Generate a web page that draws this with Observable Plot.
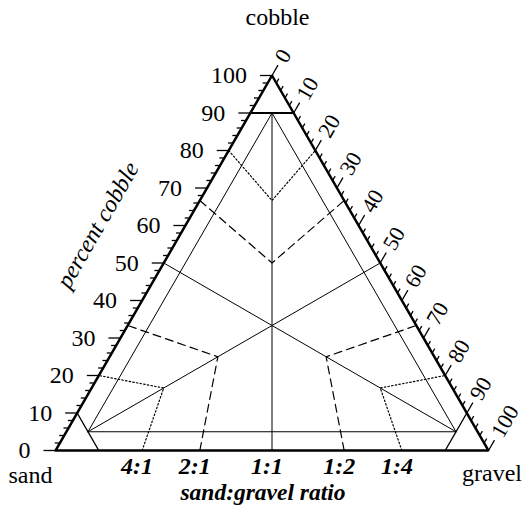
<!DOCTYPE html>
<html><head><meta charset="utf-8">
<script src="https://cdn.jsdelivr.net/npm/d3@7"></script>
<script src="https://cdn.jsdelivr.net/npm/@observablehq/plot@0.6"></script>
<style>body{margin:0;background:#fff}</style>
</head><body><div id="chart"></div>
<script>
// ---- data ----
const vertexNames = ["sand", "gravel", "cobble"];
const axisTicks = [0, 10, 20, 30, 40, 50, 60, 70, 80, 90, 100];   // labelled ticks
const minorTicks = [0,2,4,6,8,10,12,14,16,18,20,22,24,26,28,30,32,34,36,38,40,42,44,46,48,50,52,54,56,58,60,62,64,66,68,70,72,74,76,78,80,82,84,86,88,90,92,94,96,98,100];
const ratioLabels = ["4:1", "2:1", "1:1", "1:2", "1:4"];
const ratioSand = [4, 2, 1, 1, 1];
const ratioGravel = [1, 1, 1, 2, 4];
const dottedRatio = 4;   // 4:1 lines
const dashedRatio = 2;   // 2:1 lines
const innerPct = 90;     // inner triangle: 90 % of one component
const cornerPct = 90;    // small corner triangles
const cobbleCap = 90;    // heavy line at 90 % cobble

// ---- geometry helpers (ternary -> cartesian data units) ----
const H = Math.sqrt(3) / 2;
function P(s, g, c) { const t = s + g + c; s = 100 * s / t; g = 100 * g / t; c = 100 * c / t; return {x: g + c / 2, y: c * H}; }
function PV(arr) { return P(arr[0], arr[1], arr[2]); } // [sand, gravel, cobble]
function comp(A, a, B, b, C, c) { const v = [0, 0, 0]; v[A] = a; v[B] = b; v[C] = c; return v; }

const W = 524, HT = 506;
const mL = 55, mR = 36, mT = 75, mB = 56;
const pxPerUnit = (W - mL - mR) / 100;
const u = px => px / pxPerUnit;

// lines
let id = 0;
function poly(pts, arr) { id++; pts.forEach(p => arr.push({...PV(p), id})); }
const outer = [], heavy = [], corner = [], thin = [], dotted = [], dashed = [];
poly([[100,0,0],[0,100,0],[0,0,100],[100,0,0]], outer);
poly([[100-cobbleCap,0,cobbleCap],[0,100-cobbleCap,cobbleCap]], heavy);
poly([[cornerPct,0,100-cornerPct],[cornerPct,100-cornerPct,0]], corner);
poly([[0,cornerPct,100-cornerPct],[100-cornerPct,cornerPct,0]], corner);
const r = (100 - innerPct) / 2;
poly([[innerPct,r,r],[r,innerPct,r],[r,r,innerPct],[innerPct,r,r]], thin);
poly([[innerPct,r,r],[0,50,50]], thin);
poly([[r,innerPct,r],[50,0,50]], thin);
poly([[50,50,0],[r,r,innerPct]], thin);
// ratio lines for each vertex A (pair A:B on edge C=0, then A:C)
[[0,1,2],[1,0,2],[2,0,1]].forEach(([A,B,C]) => {
  [[dottedRatio, dotted], [dashedRatio, dashed]].forEach(([k, arr]) => {
    poly([comp(A,k,B,1,C,0), comp(A,k,B,1,C,1), comp(A,k,B,0,C,1)], arr);
  });
});

// ticks
const leftTicks = minorTicks.map(c => { const p = P(100 - c, 0, c); const len = u(c % 10 === 0 ? 12 : 5); return {x1: p.x, y1: p.y, x2: p.x - len, y2: p.y}; });
const rightTicks = minorTicks.map(g => { const p = P(0, g, 100 - g); const len = u(g % 10 === 0 ? 12 : 5); return {x1: p.x, y1: p.y, x2: p.x + len * 0.5, y2: p.y + len * H}; });
const leftLabels = axisTicks.map(c => ({...P(100 - c, 0, c), t: String(c)}));
const rightLabels = axisTicks.map(g => ({...P(0, g, 100 - g), t: String(g)}));
const ratioPts = ratioLabels.map((t, i) => ({...P(ratioSand[i], ratioGravel[i], 0), t}));

const font = "Liberation Serif";
const fs = 24;
const sandPt = P(100,0,0), gravelPt = P(0,100,0), cobblePt = P(0,0,100), midBase = P(50,50,0), leftMid = P(50,0,50);

const chart = Plot.plot({
  width: W, height: HT,
  marginLeft: mL, marginRight: mR, marginTop: mT, marginBottom: mB,
  x: {domain: [0, 100], axis: null},
  y: {domain: [0, 100 * H], axis: null},
  style: {background: "white"},
  marks: [
    Plot.line(thin, {x: "x", y: "y", z: "id", stroke: "black", strokeWidth: 1}),
    Plot.line(dotted, {x: "x", y: "y", z: "id", stroke: "black", strokeWidth: 1.2, strokeDasharray: "1.5,2.2"}),
    Plot.line(dashed, {x: "x", y: "y", z: "id", stroke: "black", strokeWidth: 1.2, strokeDasharray: "8,5"}),
    Plot.line(corner, {x: "x", y: "y", z: "id", stroke: "black", strokeWidth: 1.4}),
    Plot.line(heavy, {x: "x", y: "y", z: "id", stroke: "black", strokeWidth: 2}),
    Plot.line(outer, {x: "x", y: "y", z: "id", stroke: "black", strokeWidth: 2.5, strokeLinejoin: "miter"}),
    Plot.link(leftTicks, {x1: "x1", y1: "y1", x2: "x2", y2: "y2", stroke: "black", strokeWidth: 1.3}),
    Plot.link(rightTicks, {x1: "x1", y1: "y1", x2: "x2", y2: "y2", stroke: "black", strokeWidth: 1.3}),
    Plot.text(leftLabels, {x: "x", y: "y", text: "t", textAnchor: "end", dx: -25, fontFamily: font, fontSize: fs, fill: "black"}),
    Plot.text(rightLabels, {x: "x", y: "y", text: "t", textAnchor: "start", rotate: -60, dx: 8.5, dy: -14.7, fontFamily: font, fontSize: 22, fill: "black"}),
    Plot.text(ratioPts, {x: "x", y: "y", text: "t", dx: -5, dy: 16, fontFamily: font, fontSize: fs, fontWeight: "bold", fontStyle: "italic", fill: "black"}),
    Plot.text([vertexNames[0]], {x: sandPt.x, y: sandPt.y, text: d => d, textAnchor: "end", dx: -3, dy: 25, fontFamily: font, fontSize: fs, fill: "black"}),
    Plot.text([vertexNames[1]], {x: gravelPt.x, y: gravelPt.y, text: d => d, dx: 3.5, dy: 23, fontFamily: font, fontSize: fs, fill: "black"}),
    Plot.text([vertexNames[2]], {x: cobblePt.x, y: cobblePt.y, text: d => d, dx: 5.5, dy: -58, fontFamily: font, fontSize: fs, fill: "black"}),
    Plot.text(["sand:gravel ratio"], {x: midBase.x, y: midBase.y, text: d => d, dx: -9, dy: 42, fontFamily: font, fontSize: 23.5, fontWeight: "bold", fontStyle: "italic", fill: "black"}),
    Plot.text(["percent cobble"], {x: leftMid.x, y: leftMid.y, text: d => d, rotate: -60, dx: -66, dy: -38, fontFamily: font, fontSize: fs, fontStyle: "italic", fill: "black"})
  ]
});
document.getElementById("chart").appendChild(chart);
</script>
</body></html>
